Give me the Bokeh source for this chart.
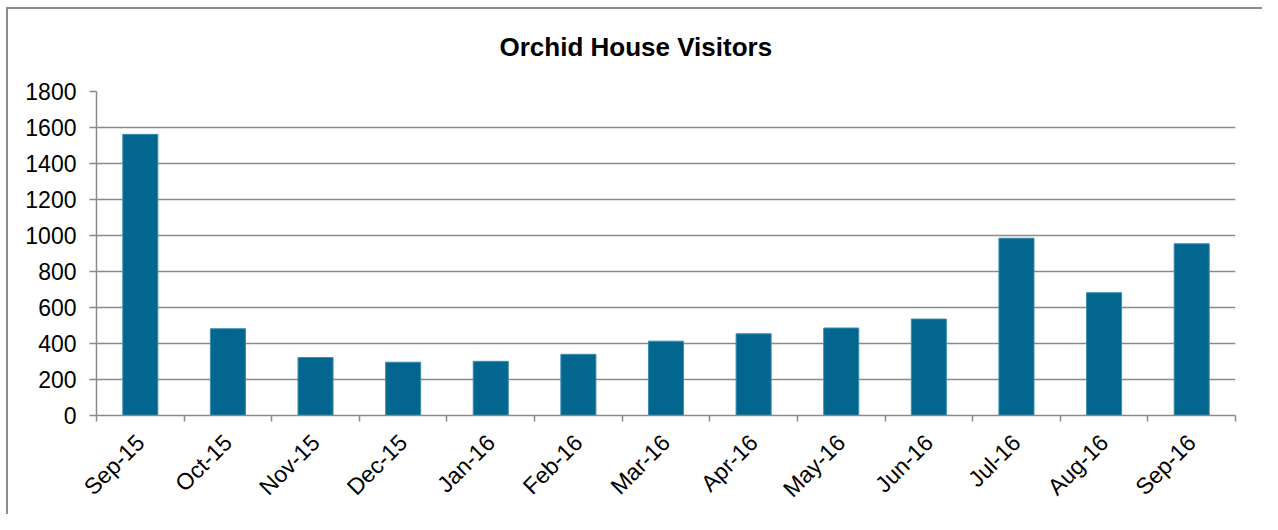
import math
from bokeh.plotting import figure
from bokeh.models import Range1d, FixedTicker, LinearAxis, Title
from bokeh.embed import file_html
from bokeh.resources import INLINE

months = ["Sep-15", "Oct-15", "Nov-15", "Dec-15", "Jan-16", "Feb-16", "Mar-16",
          "Apr-16", "May-16", "Jun-16", "Jul-16", "Aug-16", "Sep-16"]
visitors = [1562, 482, 322, 296, 301, 340, 413, 454, 486, 536, 985, 682, 954]
y_ticks = [0, 200, 400, 600, 800, 1000, 1200, 1400, 1600, 1800]

n = len(months)
centers = [i + 0.5 for i in range(n)]
bounds = list(range(n + 1))

FONT = "Liberation Sans"
GRAY = "#8a8a8a"

p = figure(width=1262, height=514, output_backend="svg", toolbar_location=None,
           x_range=Range1d(0, n), y_range=Range1d(0, 1800),
           min_border_left=96, min_border_right=27, min_border_top=89, min_border_bottom=98,
           x_axis_location=None, title=None)
# outer chart-area border on the left and top edges
p.styles = {"box-shadow": "inset 6px 7px 0 0 white, inset 8px 9px 0 0 #8c8c8c"}

p.outline_line_color = None
p.background_fill_color = "white"
p.border_fill_color = None

p.vbar(x=centers, top=visitors, width=0.4, bottom=0,
       fill_color="#03668f", line_color="#3a8db0", line_width=1)

# Title
t = Title(text="Orchid House Visitors", align="left", text_font=FONT,
          text_font_size="26px", text_font_style="bold", text_color="black",
          offset=403, standoff=59)
p.add_layout(t, "above")

# Y axis
ya = p.yaxis[0]
ya.ticker = FixedTicker(ticks=y_ticks)
ya.axis_line_color = GRAY
ya.axis_line_width = 1.5
ya.major_tick_line_color = GRAY
ya.major_tick_line_width = 1.5
ya.major_tick_out = 7
ya.major_tick_in = 0
ya.minor_tick_line_color = None
ya.major_label_text_font = FONT
ya.major_label_text_font_size = "23px"
ya.major_label_text_color = "black"
ya.major_label_standoff = 13

p.ygrid.ticker = FixedTicker(ticks=y_ticks)
p.ygrid.grid_line_color = GRAY
p.ygrid.grid_line_width = 1.5
p.xgrid.grid_line_color = None

# X axis: boundary ticks
xa_ticks = LinearAxis(ticker=FixedTicker(ticks=bounds))
xa_ticks.axis_line_color = GRAY
xa_ticks.axis_line_width = 1.5
xa_ticks.major_tick_line_color = GRAY
xa_ticks.major_tick_line_width = 1.5
xa_ticks.major_tick_out = 6
xa_ticks.major_tick_in = 0
xa_ticks.minor_tick_line_color = None
xa_ticks.major_label_text_font_size = "0px"
xa_ticks.major_label_text_alpha = 0
xa_ticks.major_label_standoff = 0
p.add_layout(xa_ticks, "below")

# X labels at category centers
xa_lab = LinearAxis(ticker=FixedTicker(ticks=centers),
                    major_label_overrides={c: m for c, m in zip(centers, months)})
xa_lab.axis_line_color = None
xa_lab.major_tick_line_color = None
xa_lab.minor_tick_line_color = None
xa_lab.major_label_orientation = math.pi / 4
xa_lab.major_label_text_font = FONT
xa_lab.major_label_text_font_size = "23px"
xa_lab.major_label_text_color = "black"
xa_lab.major_label_standoff = 11
p.add_layout(xa_lab, "below")

open("out.html", "w").write(file_html(p, INLINE))
